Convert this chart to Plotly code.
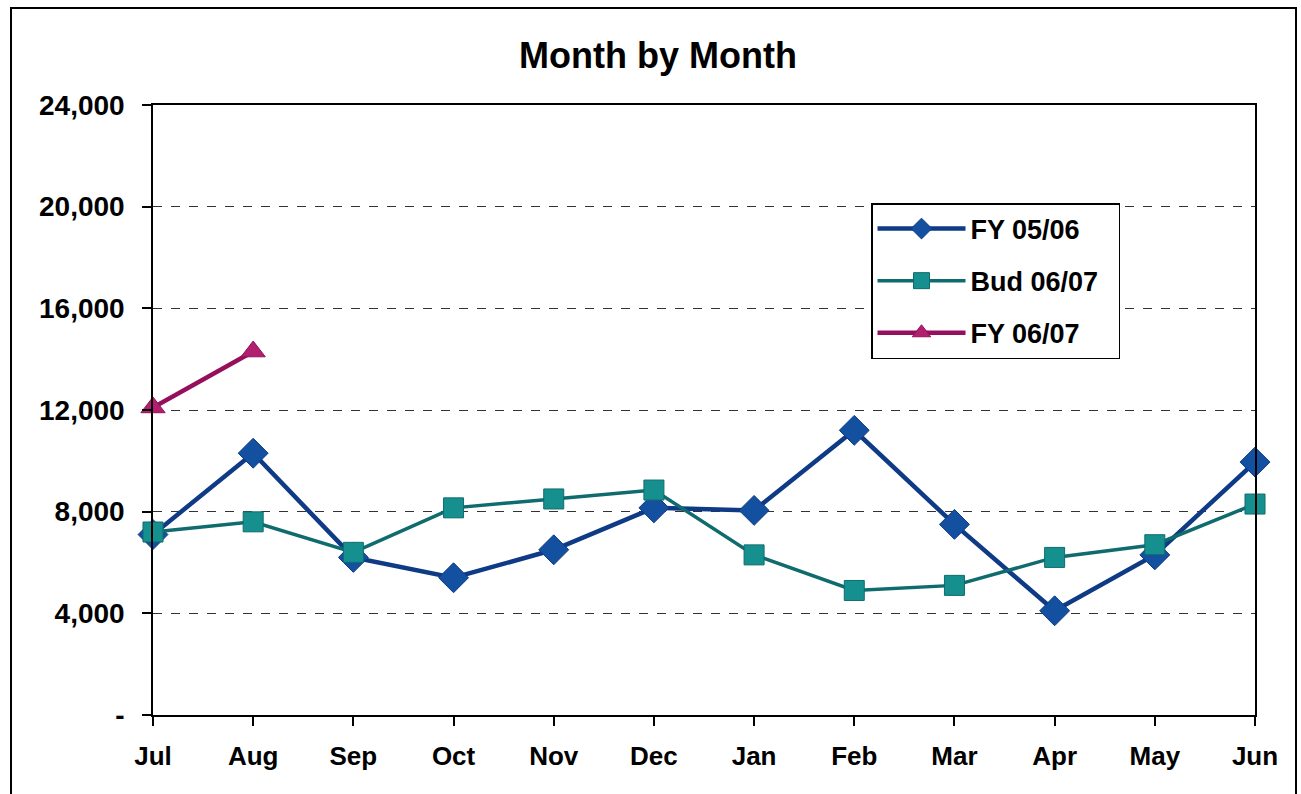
import plotly.graph_objects as go

months = ["Jul", "Aug", "Sep", "Oct", "Nov", "Dec", "Jan", "Feb", "Mar", "Apr", "May", "Jun"]
fy_0506 = [7100, 10300, 6200, 5400, 6500, 8150, 8050, 11200, 7500, 4100, 6300, 9950]
bud_0607 = [7200, 7600, 6400, 8150, 8500, 8850, 6300, 4900, 5100, 6200, 6700, 8300]
fy_0607 = [12100, 14300]

y_ticks = [0, 4000, 8000, 12000, 16000, 20000, 24000]
y_ticktext = ["-", "4,000", "8,000", "12,000", "16,000", "20,000", "24,000"]

FONT = "Liberation Sans, Arial, sans-serif"
W, H = 1301, 794
L, R, T, B = 153, 1255, 105, 715

x_idx = list(range(len(months)))
PAD = "\u00a0\u00a0"

fig = go.Figure()
fig.add_trace(go.Scatter(
    x=x_idx, y=fy_0506, name="<b>FY 05/06</b>" + PAD, mode="lines+markers",
    line=dict(color="#0E3A86", width=4.5),
    marker=dict(symbol="diamond", size=23, color="#1450A0", line=dict(color="#0E3A86", width=1)),
    cliponaxis=False, legendgroup="a"))
fig.add_trace(go.Scatter(
    x=x_idx, y=bud_0607, name="<b>Bud 06/07</b>" + PAD, mode="lines+markers",
    line=dict(color="#0F6B6E", width=3.5),
    marker=dict(symbol="square", size=20, color="#16908F", line=dict(color="#0F6B6E", width=1)),
    cliponaxis=False, legendgroup="b"))
fig.add_trace(go.Scatter(
    x=x_idx[:len(fy_0607)], y=fy_0607, name="<b>FY 06/07</b>" + PAD, mode="lines+markers",
    line=dict(color="#960F5C", width=4.5),
    marker=dict(symbol="triangle-up", size=21, color="#B0206E", line=dict(color="#960F5C", width=1)),
    cliponaxis=False, legendgroup="c"))

fig.update_layout(
    width=W, height=H,
    margin=dict(l=L, r=W - R, t=T, b=H - B, pad=0),
    paper_bgcolor="white", plot_bgcolor="white",
    font=dict(family=FONT, color="black"),
    title=dict(text="<b>Month by Month</b>", x=(518 + 798) / 2 / W, xanchor="center",
               y=1 - 55 / H, yanchor="middle", yref="container",
               font=dict(size=36, family=FONT, color="black")),
    legend=dict(x=(871 - L) / (R - L), y=(B - 203) / (B - T), xanchor="left", yanchor="top",
                bgcolor="white", bordercolor="black", borderwidth=1.5,
                font=dict(size=27, family=FONT, color="black"),
                itemwidth=88, traceorder="grouped", tracegroupgap=14),
    xaxis=dict(range=[0, 11], tickmode="array", tickvals=x_idx,
               ticktext=["<b>%s</b>" % m for m in months],
               tickfont=dict(size=26, family=FONT, color="black"),
               showline=True, linecolor="black", linewidth=2, mirror=True,
               ticks="outside", ticklen=9, tickcolor="black", tickwidth=1.5,
               ticklabelstandoff=8,
               showgrid=False, zeroline=False),
    yaxis=dict(range=[0, 24000], tickmode="array", tickvals=y_ticks,
               ticktext=["<b>%s</b>" % t for t in y_ticktext],
               tickfont=dict(size=28, family=FONT, color="black"),
               showline=True, linecolor="black", linewidth=1.5, mirror=True,
               ticks="outside", ticklen=9, tickcolor="black", tickwidth=1.5,
               ticklabelstandoff=12,
               showgrid=True, gridcolor="#333333", gridwidth=1, griddash="dash",
               zeroline=False),
    showlegend=True,
)

# outer chart border
fig.add_shape(type="rect", xref="paper", yref="paper",
              x0=(11 - L) / (R - L), x1=(1296 - L) / (R - L),
              y0=(B - 800) / (B - T), y1=(B - 8) / (B - T),
              line=dict(color="black", width=2), fillcolor="rgba(0,0,0,0)", layer="below")

fig.write_html("out.html", config={"displayModeBar": False},
               post_script="document.body.style.margin='0';document.body.style.padding='0';")
